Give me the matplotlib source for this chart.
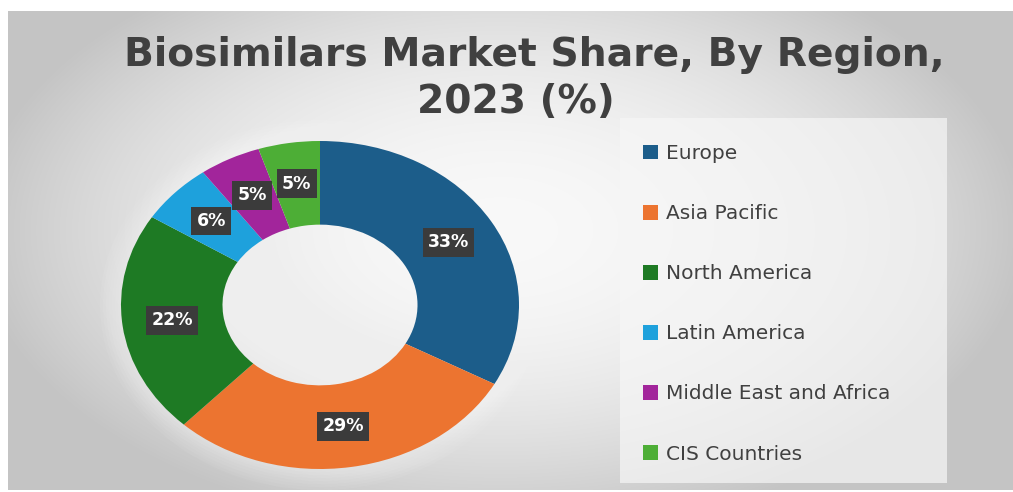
import numpy as np
import matplotlib.pyplot as plt
from matplotlib.patches import Rectangle, Ellipse

# Market share by region, 2023 (%)
regions = ['Europe', 'Asia Pacific', 'North America', 'Latin America',
           'Middle East and Africa', 'CIS Countries']
shares = [33, 29, 22, 6, 5, 5]
colors = ['#1c5d8a', '#ec7430', '#1e7a24', '#1ea1dc', '#a2259b', '#4dae36']
title_lines = ['Biosimilars Market Share, By Region,', '2023 (%)']

W, H = 1013, 492
fig = plt.figure(figsize=(W / 100, H / 100), dpi=100)

# soft grey radial backdrop inside a white border
bg = fig.add_axes([0, 0, 1, 1])
yy, xx = np.mgrid[0:H, 0:W]
r2 = ((xx - 500) / 520.0) ** 2 + ((yy - 230) / 300.0) ** 2
shade = np.clip(0.975 - 0.2 * r2, 0.77, 1.0)
shade[(xx < 8) | (yy < 11) | (yy > 489)] = 1.0
bg.imshow(np.dstack([shade] * 3), extent=[0, W, H, 0], aspect='auto', interpolation='bilinear')
bg.set_xlim(0, W)
bg.set_ylim(H, 0)
bg.axis('off')

# lighter legend panel
bg.add_patch(Rectangle((620, 118), 327, 365, facecolor='#f6f6f6', edgecolor='none', alpha=0.7))

# faint halo round the ring
for k in range(8):
    bg.add_patch(Ellipse((320, 305), 2 * (199 + 3 * k), 2 * (164 + 3 * k),
                         facecolor='white', edgecolor='none', alpha=0.06))

# two-line title, each line placed on its own baseline
bg.text(534, 66, title_lines[0], ha='center', va='baseline', fontsize=28.3,
        fontweight='bold', color='#404040', family='DejaVu Sans')
bg.text(516, 113, title_lines[1], ha='center', va='baseline', fontsize=28.3,
        fontweight='bold', color='#404040', family='DejaVu Sans')

# donut axes stretched horizontally
ax = fig.add_axes([121 / W, 23 / H, 398 / W, 328 / H])
wedges, _, autotexts = ax.pie(shares, colors=colors, startangle=90, counterclock=False,
                              radius=1, pctdistance=0.75, autopct='%d%%',
                              wedgeprops=dict(width=0.51, edgecolor='none'))
for t in autotexts:
    t.set_color('white')
    t.set_fontsize(12.5)
    t.set_fontweight('bold')
    t.set_family('DejaVu Sans')
    t.set_bbox(dict(boxstyle='square,pad=0.3', facecolor='#3b3b3b', edgecolor='none'))
ax.set_aspect('auto')
ax.set_xlim(-1, 1)
ax.set_ylim(-1, 1)
ax.axis('off')

leg = fig.legend(wedges, regions, loc='upper left', bbox_to_anchor=(625 / W, 1 - 126 / H),
                 frameon=False, labelspacing=2.04, handlelength=0.75,
                 handleheight=0.75, handletextpad=0.4,
                 prop=dict(family='DejaVu Sans', size=14.5))
for txt in leg.get_texts():
    txt.set_color('#404040')

fig.savefig('out.png', dpi=100)
